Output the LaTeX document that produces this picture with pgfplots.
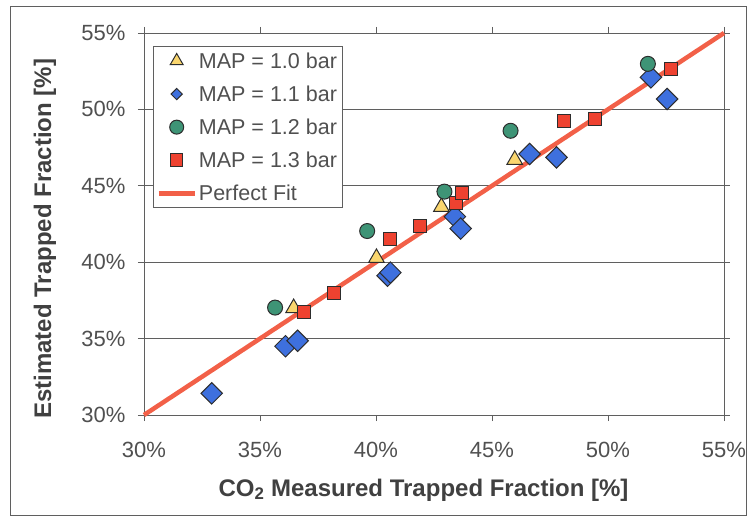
\documentclass[border=0pt]{standalone}
\usepackage{fontspec}
\setmainfont{Liberation Sans}
\usepackage{pgfplots}
\usepackage{pgfplotstable}
\pgfplotsset{compat=1.18}

\definecolor{axisgray}{RGB}{95,95,95}
\definecolor{labelgray}{RGB}{80,80,80}
\definecolor{titlegray}{RGB}{64,64,64}
\definecolor{markedge}{RGB}{45,45,45}
\definecolor{mapA}{RGB}{250,214,110}
\definecolor{mapB}{RGB}{62,112,222}
\definecolor{mapC}{RGB}{62,148,118}
\definecolor{mapD}{RGB}{238,66,48}
\definecolor{fitline}{RGB}{242,96,72}

% measured vs estimated trapped fraction, in percent
\pgfplotstableread{
x y
36.45 37.00
40.02 40.28
42.82 43.62
45.98 46.70
}\mapone
\pgfplotstableread{
x y
32.92 31.42
36.10 34.50
36.62 34.86
40.50 39.12
40.62 39.32
43.40 42.98
43.65 42.20
46.62 47.08
47.78 46.86
51.85 52.10
52.55 50.68
}\maptwo
\pgfplotstableread{
x y
35.65 37.03
39.62 42.04
42.95 44.62
45.80 48.60
51.72 52.98
}\mapthree
\pgfplotstableread{
x y
36.90 36.74
38.18 37.98
40.60 41.50
41.90 42.36
43.45 43.86
43.72 44.55
48.12 49.22
49.45 49.38
52.70 52.62
}\mapfour
\pgfplotstableread{
x y
30 30
55 55
}\perfectfit

\pgfplotsset{
  markimg/.style={legend image code/.code={%
      \path[draw=none, fill=none] (0pt,0pt) -- (36pt,0pt);
      \draw[##1] plot coordinates {(18pt,0pt)};}},
  lineimg/.style={legend image code/.code={%
      \draw[##1] (0pt,0pt) -- (36pt,0pt);}},
}

\begin{document}
\begin{tikzpicture}[x=1pt,y=1pt]
\path[use as bounding box] (-144,-105) rectangle (604,415);
\draw[axisgray, line width=0.9pt] (-134,-100) rectangle (602,409);
\begin{axis}[
  at={(0pt,0pt)}, anchor=south west,
  scale only axis, width=580pt, height=382pt,
  xmin=30, xmax=55, ymin=30, ymax=55,
  xtick={30,35,40,45,50,55}, ytick={30,35,40,45,50,55},
  /pgf/number format/assume math mode=true,
  xticklabel={\pgfmathprintnumber{\tick}\%},
  yticklabel={\pgfmathprintnumber{\tick}\%},
  ticklabel style={font=\fontsize{22}{25}\selectfont, text=labelgray},
  xticklabel style={yshift=-18pt},
  yticklabel style={xshift=-9pt},
  tick align=outside, major tick length=6pt,
  tick style={axisgray, line width=0.9pt},
  axis line style={axisgray, line width=0.9pt},
  ymajorgrids, grid style={axisgray, line width=0.9pt},
  xlabel={CO\textsubscript{2} Measured Trapped Fraction [\%]},
  ylabel={Estimated Trapped Fraction [\%]},
  label style={font=\bfseries\fontsize{24}{28}\selectfont, text=titlegray},
  xlabel style={at={(axis description cs:0.482,-0.196)}, anchor=center},
  ylabel style={at={(axis description cs:-0.171,0.461)}, anchor=center},
  legend style={at={(axis description cs:0.0155,0.966)}, anchor=north west,
    draw=axisgray, line width=0.9pt, fill=white,
    font=\fontsize{21.5}{24}\selectfont, text=labelgray,
    inner xsep=3pt, inner ysep=4pt, row sep=12pt,
    nodes={inner xsep=2pt, inner ysep=2pt}},
  legend cell align=left,
  clip=false,
]
\addplot[only marks, draw=markedge, mark=triangle*, mark size=9pt,
  mark options={fill=mapA, draw=markedge, line width=1pt},
  markimg, legend image post style={mark size=7.5pt}]
  table {\mapone};
\addlegendentry{MAP = 1.0 bar}
\addplot[only marks, draw=markedge, mark=square*, mark size=7.6pt,
  mark options={fill=mapB, draw=markedge, line width=1pt, rotate=45},
  markimg, legend image post style={mark size=4pt}]
  table {\maptwo};
\addlegendentry{MAP = 1.1 bar}
\addplot[only marks, draw=markedge, mark=*, mark size=7.5pt,
  mark options={fill=mapC, draw=markedge, line width=1pt},
  markimg, legend image post style={mark size=7pt}]
  table {\mapthree};
\addlegendentry{MAP = 1.2 bar}
\addplot[only marks, draw=markedge, mark=square*, mark size=6.6pt,
  mark options={fill=mapD, draw=markedge, line width=1pt},
  markimg, legend image post style={mark size=6.3pt}]
  table {\mapfour};
\addlegendentry{MAP = 1.3 bar}
\addplot[fitline, line width=4.5pt, no marks, lineimg]
  table {\perfectfit};
\addlegendentry{Perfect Fit}
\end{axis}
\end{tikzpicture}
\end{document}
